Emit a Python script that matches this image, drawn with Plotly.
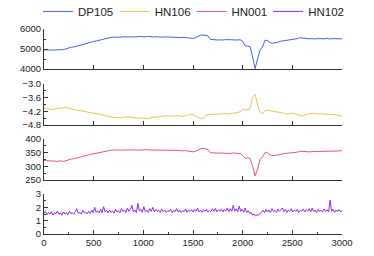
import numpy as np
import plotly.graph_objects as go

# x positions (sample index)
x_main = list(range(0, 3001, 25))
x_hn102 = list(range(0, 3001, 15))

dp105 = [
    4960, 4950, 4970, 4955, 4945, 4960, 4950, 4965, 4975, 5020,
    5080, 5090, 5100, 5120, 5170, 5200, 5240, 5270, 5320, 5350,
    5380, 5400, 5430, 5480, 5510, 5550, 5570, 5580, 5590, 5580,
    5600, 5590, 5610, 5600, 5620, 5605, 5615, 5600, 5625, 5610,
    5620, 5605, 5630, 5610, 5600, 5615, 5600, 5610, 5590, 5605,
    5595, 5585, 5600, 5580, 5590, 5570, 5580, 5560, 5570, 5545,
    5530, 5560, 5640, 5690, 5700, 5680, 5660, 5480, 5460, 5470,
    5450, 5460, 5445, 5470, 5455, 5440, 5460, 5450, 5470, 5460,
    5380, 5160, 5150, 5120, 4600, 4020, 4500, 4950, 5100, 5440,
    5420, 5320, 5290, 5300, 5330, 5380, 5400, 5410, 5440, 5430,
    5450, 5480, 5520, 5560, 5540, 5520, 5530, 5510, 5525, 5500,
    5520, 5505, 5520, 5510, 5530, 5500, 5515, 5520, 5505, 5520,
    5510,
]

hn106 = [
    -4.07, -4.10, -4.09, -4.12, -4.10, -4.08, -4.06, -4.04, -4.02, -4.03,
    -4.06, -4.10, -4.12, -4.14, -4.16, -4.18, -4.20, -4.22, -4.23, -4.25,
    -4.26, -4.28, -4.30, -4.32, -4.36, -4.40, -4.42, -4.45, -4.47, -4.48,
    -4.47, -4.49, -4.46, -4.44, -4.43, -4.46, -4.48, -4.49, -4.50, -4.51,
    -4.50, -4.51, -4.52, -4.48, -4.46, -4.44, -4.42, -4.40, -4.41, -4.40,
    -4.40, -4.42, -4.43, -4.41, -4.39, -4.40, -4.42, -4.38, -4.35, -4.34,
    -4.35, -4.40, -4.47, -4.52, -4.50, -4.40, -4.35, -4.34, -4.33, -4.32,
    -4.33, -4.31, -4.32, -4.30, -4.32, -4.31, -4.30, -4.29, -4.25, -4.22,
    -4.12, -4.15, -4.10, -4.08, -3.60, -3.45, -3.90, -4.25, -4.30, -4.18,
    -4.15, -4.17, -4.16, -4.18, -4.20, -4.24, -4.27, -4.30, -4.32, -4.30,
    -4.28, -4.30, -4.35, -4.38, -4.40, -4.36, -4.33, -4.30, -4.29, -4.31,
    -4.30, -4.32, -4.31, -4.33, -4.32, -4.34, -4.33, -4.35, -4.36, -4.38,
    -4.41,
]

hn001 = [
    322, 320, 321, 319, 320, 318, 319, 320, 318, 322,
    326, 327, 328, 329, 332, 335, 338, 340, 342, 344,
    346, 348, 351, 353, 355, 357, 358, 359, 360, 359,
    360, 359, 360, 361, 360, 360, 361, 360, 359, 360,
    360, 361, 360, 360, 359, 360, 360, 359, 360, 359,
    359, 358, 359, 358, 358, 357, 358, 357, 356, 355,
    353, 355, 360, 364, 366, 365, 362, 350, 349, 349,
    348, 349, 348, 349, 348, 347, 349, 348, 349, 347,
    340, 330, 331, 329, 300, 265, 290, 325, 335, 350,
    349, 342, 339, 340, 341, 343, 346, 347, 348, 349,
    349, 350, 352, 355, 354, 354, 354, 353, 354, 354,
    355, 354, 355, 354, 355, 356, 355, 355, 356, 357,
    357,
]

hn102 = [
    1.55, 1.70, 1.45, 1.62, 1.50, 1.68, 1.42, 1.60, 1.52, 1.72,
    1.48, 1.58, 1.40, 1.65, 1.50, 1.62, 1.45, 1.70, 1.52, 1.60,
    1.48, 1.75, 1.90, 1.55, 1.62, 1.50, 1.78, 1.58, 1.65, 1.52,
    1.70, 1.55, 1.80, 1.60, 2.00, 1.62, 1.75, 1.58, 1.85, 1.60,
    2.05, 1.65, 1.78, 1.58, 1.80, 1.62, 1.72, 1.55, 1.85, 1.65,
    1.75, 1.60, 1.90, 1.68, 1.80, 1.62, 1.95, 1.70, 1.85, 2.15,
    1.65, 1.80, 1.60, 2.30, 1.72, 1.85, 1.62, 2.05, 1.68, 1.80,
    1.62, 1.90, 1.70, 2.00, 1.65, 1.85, 1.70, 1.78, 1.62, 1.88,
    1.68, 1.80, 1.62, 1.75, 1.70, 1.85, 1.60, 1.78, 1.68, 1.90,
    1.65, 1.80, 1.62, 1.75, 1.68, 1.88, 1.62, 1.78, 1.70, 1.82,
    1.64, 1.85, 1.70, 1.95, 1.65, 1.78, 1.62, 1.80, 1.70, 1.85,
    1.65, 1.78, 1.68, 1.90, 1.70, 1.92, 1.66, 1.82, 1.70, 1.88,
    1.65, 1.85, 1.72, 1.95, 1.68, 1.90, 1.70, 2.15, 1.72, 1.88,
    1.65, 2.10, 1.70, 1.85, 1.62, 1.95, 1.60, 1.75, 1.55, 1.62,
    1.42, 1.50, 1.35, 1.45, 1.40, 1.55, 1.62, 1.78, 1.60, 1.85,
    1.65, 1.80, 1.62, 1.90, 1.68, 1.78, 1.62, 1.85, 1.70, 1.82,
    1.95, 1.68, 1.85, 1.62, 1.78, 1.70, 1.90, 1.65, 1.80, 1.68,
    1.85, 1.62, 1.78, 1.70, 1.88, 1.65, 1.82, 1.70, 1.90, 1.66,
    1.95, 1.68, 1.80, 1.62, 1.85, 1.70, 1.78, 1.65, 1.88, 1.70,
    1.82, 1.65, 2.55, 1.70, 1.85, 1.62, 1.80, 1.68, 1.85, 1.65,
    1.75,
]

names = ["DP105", "HN106", "HN001", "HN102"]
colors = ["#4a5fe6", "#f0c25c", "#e8566a", "#8e2cf0"]

fig = go.Figure()
series = [(x_main, dp105), (x_main, hn106), (x_main, hn001), (x_hn102, hn102)]
for i, ((xs, ys), n, c) in enumerate(zip(series, names, colors)):
    fig.add_trace(go.Scatter(
        x=xs, y=ys, mode="lines", name=n,
        line=dict(color=c, width=1),
        xaxis="x" if i == 0 else f"x{i+1}",
        yaxis="y" if i == 0 else f"y{i+1}",
    ))

H = 205.0
def dom(top_px, bot_px):
    return [(234 - bot_px) / H, (234 - top_px) / H]

domains = [dom(29, 69), dom(84, 125), dom(139, 180), dom(194, 234)]
yranges = [[4000, 6000], [-4.8, -3.0], [250, 400], [0, 3]]
ydticks = [1000, 0.6, 50, 1]
yfmt = ["", ".1f", "", ""]

axcol = "#333333"
font = dict(family="Liberation Sans, Arial, sans-serif", size=9.5, color="#222222")

layout = dict(
    width=374, height=256,
    margin=dict(l=44, r=32, t=29, b=22, autoexpand=False),
    paper_bgcolor="white", plot_bgcolor="white",
    font=font,
    showlegend=True,
    legend=dict(orientation="h", x=-0.02, y=1.015, xanchor="left", yanchor="bottom",
                font=dict(size=11.5, color="#222222"),
                entrywidth=31.7, entrywidthmode="pixels",
                itemwidth=30, tracegroupgap=0, bgcolor="rgba(0,0,0,0)"),
)

for i in range(4):
    xa = "xaxis" if i == 0 else f"xaxis{i+1}"
    ya = "yaxis" if i == 0 else f"yaxis{i+1}"
    xref = "x" if i == 0 else f"x{i+1}"
    yref = "y" if i == 0 else f"y{i+1}"
    last = (i == 3)
    layout[xa] = dict(
        domain=[0, 1], anchor=yref, range=[0, 3000],
        tickmode="linear", tick0=0, dtick=500,
        ticks="inside", ticklen=4, tickcolor=axcol, tickwidth=1,
        showticklabels=last, showgrid=False, zeroline=False,
        showline=True, linecolor=axcol, linewidth=1,
        minor=dict(ticks="inside", dtick=250, ticklen=2, tickcolor=axcol) if last else None,
        matches=None if i == 0 else "x",
    )
    layout[ya] = dict(
        domain=domains[i], anchor=xref, range=yranges[i],
        tickmode="linear", tick0=yranges[i][0], dtick=ydticks[i],
        tickformat=yfmt[i],
        ticks="inside", ticklen=4, tickcolor=axcol, tickwidth=1,
        showgrid=False, zeroline=False,
        showline=True, linecolor=axcol, linewidth=1,
        minor=dict(ticks="inside", dtick=ydticks[i] / 2, ticklen=2, tickcolor=axcol),
    )

fig.update_layout(**layout)
fig.write_html("out.html",
               config={"displayModeBar": False},
               post_script="document.body.style.margin='0';document.body.style.padding='0';")
